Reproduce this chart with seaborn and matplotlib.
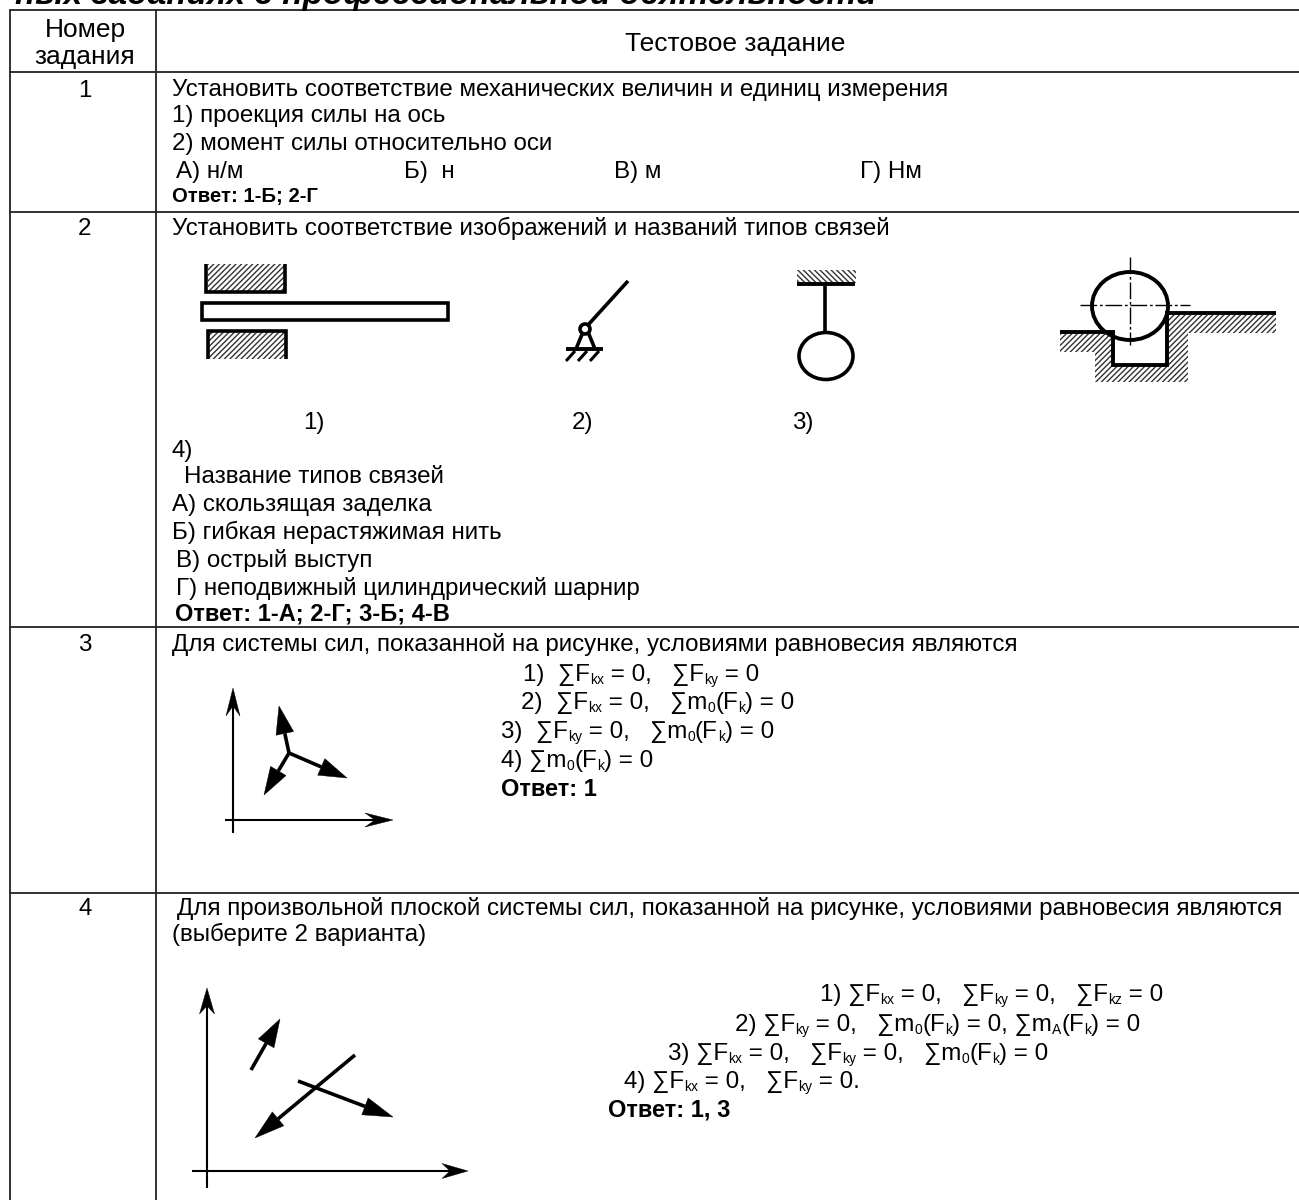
import re
import pandas as pd
import matplotlib
matplotlib.use('Agg')
import matplotlib.pyplot as plt
from matplotlib.patches import Polygon, Rectangle, Ellipse, Circle
import seaborn as sns

# text of the table
heading = "ных заданиях с профессиональной деятельности"
header_no = ["Номер", "задания"]
header_task = "Тестовое задание"
row_numbers = ["1", "2", "3", "4"]

row1_lines = ["Установить соответствие механических величин и единиц измерения",
              "1) проекция силы на ось",
              "2) момент силы относительно оси",
              "А) н/м", "Б)  н", "В) м", "Г) Нм"]
row2_lines = ["Установить соответствие изображений и названий типов связей",
              "1)", "2)", "3)", "4)",
              "Название типов связей",
              "А) скользящая заделка",
              "Б) гибкая нерастяжимая нить",
              "В) острый выступ",
              "Г) неподвижный цилиндрический шарнир"]
row3_title = "Для системы сил, показанной на рисунке, условиями равновесия являются"
row3_eqs = ["1)  ∑F_{kx} = 0,   ∑F_{ky} = 0",
            "2)  ∑F_{kx} = 0,   ∑m_{0}(F_{k}) = 0",
            "3)  ∑F_{ky} = 0,   ∑m_{0}(F_{k}) = 0",
            "4) ∑m_{0}(F_{k}) = 0"]
row4_title = ["Для произвольной плоской системы сил, показанной на рисунке, условиями равновесия являются",
              "(выберите 2 варианта)"]
row4_eqs = ["1) ∑F_{kx} = 0,   ∑F_{ky} = 0,   ∑F_{kz} = 0",
            "2) ∑F_{ky} = 0,   ∑m_{0}(F_{k}) = 0, ∑m_{A}(F_{k}) = 0",
            "3) ∑F_{kx} = 0,   ∑F_{ky} = 0,   ∑m_{0}(F_{k}) = 0",
            "4) ∑F_{kx} = 0,   ∑F_{ky} = 0."]
answers = ["Ответ: 1-Б; 2-Г", "Ответ: 1-А; 2-Г; 3-Б; 4-В", "Ответ: 1", "Ответ: 1, 3"]

# table rules, in pixels
rule_y = [10, 72, 212, 627, 893]
rule_x = [10, 156]

FS = 17.4
HEAD = 19
SUB = 10
BOLD = 17
INK = '#000000'

sns.set_theme(style='white')
plt.rcParams['font.family'] = ['Liberation Sans', 'DejaVu Sans']
plt.rcParams['hatch.linewidth'] = 1.0

fig = plt.figure(figsize=(12.99, 12), dpi=100)
ax = fig.add_axes([0, 0, 1, 1])

rules = []
for i, y in enumerate(rule_y):
    rules.append(pd.DataFrame({'x': [10, 1299], 'y': [y, y], 'rule': f'h{i}'}))
for i, x in enumerate(rule_x):
    rules.append(pd.DataFrame({'x': [x, x], 'y': [10, 1200], 'rule': f'v{i}'}))
rules = pd.concat(rules)
sns.lineplot(data=rules, x='x', y='y', units='rule', estimator=None, sort=False,
             color='#222222', lw=1.3, legend=False, ax=ax)

ax.set_xlim(0, 1299)
ax.set_ylim(1200, 0)
ax.axis('off')
renderer = fig.canvas.get_renderer()


def put(x, y, s, **kw):
    return ax.text(x, y + 1, s, fontsize=kw.pop('fontsize', FS), color=INK, va='baseline', **kw)


def advance(s, size):
    # padded with x so that trailing spaces are measured too
    a = ax.text(0, 0, 'x' + s + 'x', fontsize=size)
    b = ax.text(0, 0, 'xx', fontsize=size)
    w = a.get_window_extent(renderer).width - b.get_window_extent(renderer).width
    a.remove()
    b.remove()
    return w


def put_eq(x, y, s):
    for part in re.split(r'(_\{[^}]*\})', s):
        if not part:
            continue
        if part.startswith('_{'):
            sub = part[2:-1]
            put(x, y + 3, sub, fontsize=SUB)
            x += advance(sub, SUB)
        else:
            put(x, y, part)
            x += advance(part, FS)


def poly_line(pts, lw=2.6):
    ax.plot([p[0] for p in pts], [p[1] for p in pts], color=INK, lw=lw,
            solid_capstyle='butt', solid_joinstyle='miter')


def hatch_box(x0, y0, x1, y1, pattern='//////'):
    ax.add_patch(Rectangle((x0, y0), x1 - x0, y1 - y0, facecolor='white',
                           edgecolor='#333333', hatch=pattern, lw=0))


def arrow(start, tip, lw, head_len, head_w, notch=0.0):
    dx, dy = tip[0] - start[0], tip[1] - start[1]
    d = (dx ** 2 + dy ** 2) ** 0.5
    ux, uy = dx / d, dy / d
    bx, by = tip[0] - ux * head_len, tip[1] - uy * head_len
    nx, ny = bx + ux * notch, by + uy * notch
    ax.plot([start[0], nx], [start[1], ny], color=INK, lw=lw, solid_capstyle='butt')
    ax.add_patch(Polygon([tip, (bx - uy * head_w / 2, by + ux * head_w / 2), (nx, ny),
                          (bx + uy * head_w / 2, by - ux * head_w / 2)],
                         closed=True, facecolor=INK, edgecolor=INK, lw=0.3))


# cut off heading above the table
ax.text(15, 4, heading, fontsize=24, fontweight='bold', fontstyle='italic', color=INK, va='baseline')

# header
put(85, 36, header_no[0], ha='center', fontsize=HEAD)
put(85, 63, header_no[1], ha='center', fontsize=HEAD)
put(735, 50, header_task, ha='center', fontsize=HEAD)
for y, n in zip([96, 234, 650, 914], row_numbers):
    put(85, y, n, ha='center')

# row 1
put(172, 95, row1_lines[0])
put(172, 121, row1_lines[1])
put(172, 149, row1_lines[2])
for x, s in zip([176, 404, 614, 860], row1_lines[3:7]):
    put(x, 177, s)
put(172, 201, answers[0], fontweight='bold', fontsize=14.6)

# row 2
put(172, 234, row2_lines[0])
for x, s in zip([303, 572, 792], row2_lines[1:4]):
    put(x, 428, s)
put(172, 456, row2_lines[4])
for x, y, s in zip([184, 172, 172, 176, 176], [482, 510, 538, 566, 594], row2_lines[5:10]):
    put(x, y, s)
put(175, 620, answers[1], fontweight='bold', fontsize=BOLD)

# row 2 drawing 1
hatch_box(208, 264, 285, 291)
hatch_box(208, 331, 287, 359)
poly_line([(206.5, 264), (206.5, 291.5), (285, 291.5), (285, 264)])
poly_line([(208, 359), (208, 330.5), (286.5, 330.5), (286.5, 359)])
ax.add_patch(Rectangle((202, 302.5), 246, 17, facecolor='white', edgecolor=INK, lw=2.6))

# row 2 drawing 2
for x in [566, 578, 590]:
    poly_line([(x, 361), (x + 9, 351)], lw=2.2)
poly_line([(566, 349), (603, 349)], lw=2.8)
poly_line([(576, 349), (583, 332)])
poly_line([(595, 349), (588, 332)])
poly_line([(588, 325), (628, 281)])
ax.add_patch(Circle((585, 329), 5, facecolor='white', edgecolor=INK, lw=2.6, zorder=3))

# row 2 drawing 3
hatch_box(797, 270, 856, 283, '\\\\\\\\\\\\')
poly_line([(797, 283.5), (855, 283.5)], lw=2.8)
poly_line([(825, 284), (825, 332)])
ax.add_patch(Ellipse((826, 356), 54, 47, facecolor='white', edgecolor=INK, lw=2.6))

# row 2 drawing 4
hatch_box(1060, 334, 1113, 352)
hatch_box(1095, 350, 1188, 382)
hatch_box(1167, 315, 1188, 352)
hatch_box(1167, 315, 1276, 333)
ax.add_patch(Rectangle((1113, 334), 54, 31, facecolor='white', lw=0))
poly_line([(1060, 332), (1113, 332), (1113, 365), (1167, 365), (1167, 313), (1276, 313)], lw=2.8)
ax.plot([1130, 1130], [257, 345], color=INK, lw=1.0, dashes=(12, 2, 2, 2), zorder=4)
ax.plot([1080, 1190], [305, 305], color=INK, lw=1.0, dashes=(12, 2, 2, 2), zorder=4)
ax.add_patch(Ellipse((1130, 306), 76, 68, facecolor='none', edgecolor=INK, lw=2.8, zorder=5))

# row 3
put(172, 650, row3_title)
for x, y, s in zip([523, 521, 501, 501], [680, 708, 737, 766], row3_eqs):
    put_eq(x, y, s)
put(501, 795, answers[2], fontweight='bold', fontsize=BOLD)
arrow((233, 833), (233, 688), 1.5, 28, 14, 10)
arrow((225, 820), (393, 820), 1.5, 28, 14, 10)
arrow((289, 753), (279, 706), 2.6, 28, 18)
arrow((289, 753), (264, 795), 2.6, 28, 18)
arrow((289, 753), (347, 778), 2.6, 28, 18)

# row 4
put(177, 914, row4_title[0])
put(172, 940, row4_title[1])
for x, y, s in zip([820, 735, 668, 624], [1000, 1030, 1059, 1087], row4_eqs):
    put_eq(x, y, s)
put(608, 1116, answers[3], fontweight='bold', fontsize=BOLD)
arrow((207, 1188), (207, 988), 1.5, 26, 15, 8)
arrow((192, 1171), (468, 1171), 1.5, 26, 15, 8)
arrow((251, 1070), (280, 1019), 2.6, 28, 18)
arrow((355, 1055), (255, 1138), 2.6, 30, 18)
arrow((298, 1081), (393, 1117), 2.6, 30, 18)

fig.savefig('out.png', dpi=100)
